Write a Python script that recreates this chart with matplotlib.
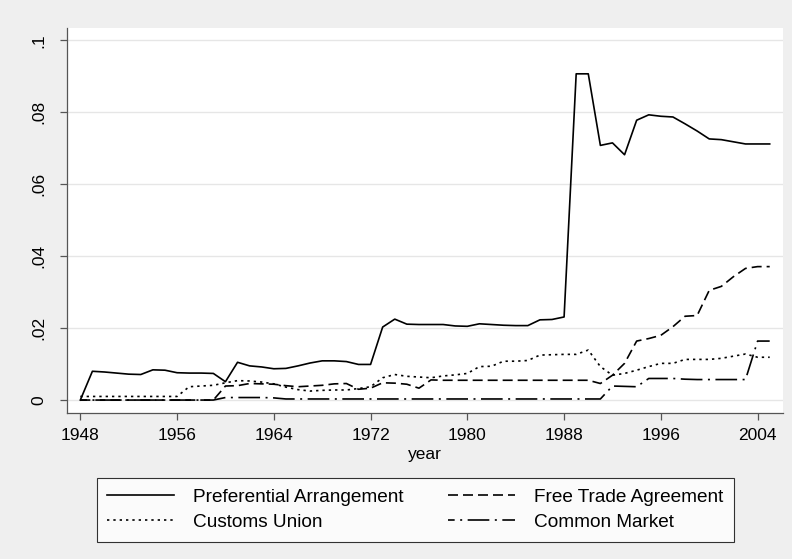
import matplotlib
matplotlib.use("Agg")
import matplotlib.pyplot as plt
import numpy as np

plt.rcParams['font.family'] = ['Liberation Sans', 'DejaVu Sans']

years = list(range(1948, 2006))

preferential_arrangement = [
    0.0000, 0.0080, 0.0078, 0.0075, 0.0072, 0.0071, 0.0084, 0.0083, 0.0076, 0.0075,
    0.0075, 0.0074, 0.0051, 0.0105, 0.0095, 0.0092, 0.0087, 0.0088, 0.0095, 0.0103,
    0.0109, 0.0109, 0.0107, 0.0099, 0.0099, 0.0203, 0.0225, 0.0211, 0.0210, 0.0210,
    0.0210, 0.0206, 0.0205, 0.0212, 0.0210, 0.0208, 0.0207, 0.0207, 0.0223, 0.0224,
    0.0231, 0.0907, 0.0907, 0.0708, 0.0715, 0.0682, 0.0778, 0.0793, 0.0789, 0.0787,
    0.0768, 0.0748, 0.0726, 0.0724, 0.0718, 0.0712, 0.0712, 0.0712,
]

free_trade_agreement = [
    0.0, 0.0, 0.0, 0.0, 0.0, 0.0, 0.0, 0.0, 0.0, 0.0,
    0.0, 0.0, 0.0039, 0.0040, 0.0046, 0.0045, 0.0044, 0.0040, 0.0037, 0.0039,
    0.0041, 0.0045, 0.0046, 0.0030, 0.0033, 0.0048, 0.0047, 0.0044, 0.0033, 0.0056,
    0.0055, 0.0055, 0.0055, 0.0055, 0.0055, 0.0055, 0.0055, 0.0055, 0.0055, 0.0055,
    0.0055, 0.0055, 0.0055, 0.0046, 0.0069, 0.0102, 0.0164, 0.0171, 0.0180, 0.0204,
    0.0233, 0.0235, 0.0305, 0.0316, 0.0343, 0.0366, 0.0371, 0.0371,
]

customs_union = [
    0.0010, 0.0010, 0.0010, 0.0010, 0.0010, 0.0010, 0.0010, 0.0010, 0.0010, 0.0037,
    0.0039, 0.0041, 0.0048, 0.0054, 0.0053, 0.0050, 0.0045, 0.0036, 0.0029, 0.0025,
    0.0027, 0.0028, 0.0028, 0.0032, 0.0037, 0.0062, 0.0071, 0.0066, 0.0064, 0.0062,
    0.0067, 0.0070, 0.0074, 0.0093, 0.0094, 0.0108, 0.0108, 0.0110, 0.0125, 0.0126,
    0.0127, 0.0127, 0.0139, 0.0093, 0.0069, 0.0074, 0.0083, 0.0093, 0.0102, 0.0102,
    0.0113, 0.0113, 0.0113, 0.0116, 0.0122, 0.0128, 0.0119, 0.0119,
]

common_market = [
    0.0, 0.0, 0.0, 0.0, 0.0, 0.0, 0.0, 0.0, 0.0, 0.0,
    0.0, 0.0, 0.0007, 0.0007, 0.0007, 0.0007, 0.0006, 0.0003, 0.0003, 0.0003,
    0.0003, 0.0003, 0.0003, 0.0003, 0.0003, 0.0003, 0.0003, 0.0003, 0.0003, 0.0003,
    0.0003, 0.0003, 0.0003, 0.0003, 0.0003, 0.0003, 0.0003, 0.0003, 0.0003, 0.0003,
    0.0003, 0.0003, 0.0003, 0.0003, 0.0039, 0.0038, 0.0037, 0.0060, 0.0060, 0.0060,
    0.0058, 0.0057, 0.0057, 0.0057, 0.0057, 0.0057, 0.0164, 0.0164,
]

series_labels = ["Preferential Arrangement", "Free Trade Agreement",
                 "Customs Union", "Common Market"]
x_ticks = [1948, 1956, 1964, 1972, 1980, 1988, 1996, 2004]
y_ticks = [0, 0.02, 0.04, 0.06, 0.08, 0.1]
y_tick_labels = ["0", ".02", ".04", ".06", ".08", ".1"]
x_label = "year"

BG = "#efefef"
FS_TICK = 12.5
FS_LEG = 13.7
fig = plt.figure(figsize=(7.92, 5.59), dpi=100, facecolor=BG)
ax = fig.add_axes([67/792, 1-413/559, (783-67)/792, (413-28)/559])
ax.set_facecolor("white")

lw = 1.2
l1, = ax.plot(years, preferential_arrangement, color="black", lw=lw, linestyle="-")
l2, = ax.plot(years, free_trade_agreement, color="black", lw=lw, dashes=(6, 3))
l3, = ax.plot(years, customs_union, color="black", lw=lw, dashes=(1.4, 2.4))
l4, = ax.plot(years, common_market, color="black", lw=lw,
              linestyle=(9, (13, 3.3, 1.2, 3.3)))

ax.set_xlim(1946.9, 2006.1)
ax.set_ylim(-0.0036, 0.10344)
ax.set_xticks(x_ticks)
ax.set_yticks(y_ticks)
ax.set_yticklabels(y_tick_labels, rotation=90, va="center")
ax.grid(axis="y", color="#e6e6e6", lw=1.0)
ax.set_axisbelow(True)

for s in ["top", "right"]:
    ax.spines[s].set_visible(False)
for s in ["left", "bottom"]:
    ax.spines[s].set_color("#555555")
    ax.spines[s].set_linewidth(0.9)
ax.tick_params(axis="both", length=5, width=0.9, color="#555555", labelsize=FS_TICK,
               labelcolor="black")
ax.tick_params(axis="y", pad=10)
ax.tick_params(axis="x", pad=6)
ax.set_xlabel(x_label, fontsize=FS_TICK, labelpad=2.5)

fs_px = FS_LEG * 100 / 72
leg = fig.legend([l1, l3, l2, l4],
                 [series_labels[0], series_labels[2], series_labels[1], series_labels[3]],
                 ncol=2, loc="upper left",
                 bbox_to_anchor=(97/792, 1-478/559),
                 frameon=True, fancybox=False, edgecolor="black",
                 facecolor="white", fontsize=FS_LEG, handlelength=67/fs_px,
                 handletextpad=19/fs_px, columnspacing=44/fs_px,
                 borderaxespad=0, labelspacing=0.42, borderpad=0.55)
leg.get_frame().set_linewidth(0.8)

fig.savefig("out.png", dpi=100, facecolor=BG)
